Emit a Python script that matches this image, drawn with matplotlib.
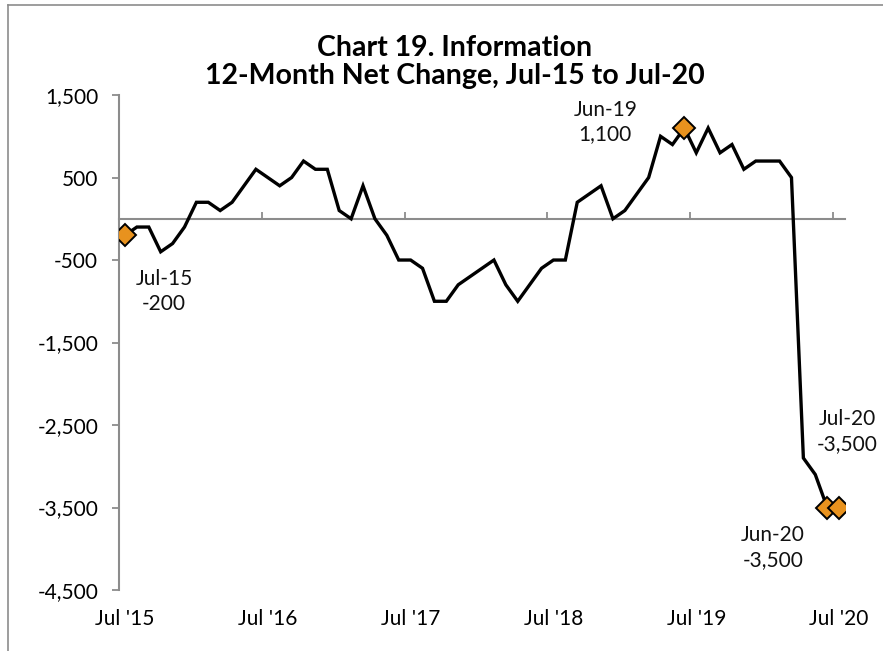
import matplotlib

matplotlib.use("Agg")
import matplotlib.pyplot as plt
import pandas as pd
from matplotlib.lines import Line2D

plt.rcParams["font.family"] = ["Lato", "DejaVu Sans"]

# ---------------------------------------------------------------------------
# data: 12-month net change, Information, Jul-15 .. Jul-20
# ---------------------------------------------------------------------------
months = pd.date_range("2015-07-01", "2020-07-01", freq="MS").strftime("%b-%y").tolist()
net_change = [
    -200, -100, -100, -400, -300, -100, 200, 200, 100, 200, 400, 600,
    500, 400, 500, 700, 600, 600, 100, 0, 400, 0, -200, -500,
    -500, -600, -1000, -1000, -800, -700, -600, -500, -800, -1000, -800, -600,
    -500, -500, 200, 300, 400, 0, 100, 300, 500, 1000, 900, 1100,
    800, 1100, 800, 900, 600, 700, 700, 700, 500, -2900, -3100, -3500,
    -3500,
]
xtick_labels = ["Jul '15", "Jul '16", "Jul '17", "Jul '18", "Jul '19", "Jul '20"]
yticks = [1500, 500, -500, -1500, -2500, -3500, -4500]
highlight = ["Jul-15", "Jun-19", "Jun-20", "Jul-20"]
# label offsets in pixels (dx, dy) from the marker
label_offsets = {"Jul-15": (39, -56), "Jun-19": (-79, 6), "Jun-20": (-54, -40), "Jul-20": (8, 76)}

ORANGE = "#E8921E"
GREY = "#8C8C8C"

fig = plt.figure(figsize=(8.83, 6.51), dpi=100, facecolor="white")
ax = fig.add_axes([0.1348, 0.0937, 0.8222, 0.7603])

x = list(range(len(net_change)))
ax.plot(x, net_change, color="black", linewidth=2.4, solid_joinstyle="miter", zorder=3)

for m in highlight:
    i = months.index(m)
    ax.plot(i, net_change[i], marker="D", markersize=11, markerfacecolor=ORANGE,
            markeredgecolor="black", markeredgewidth=1.4, linestyle="none", zorder=4)
    dx, dy = label_offsets[m]
    ax.annotate(f"{m}\n{net_change[i]:,}", (i, net_change[i]),
                xytext=(dx * 0.72, dy * 0.72), textcoords="offset points",
                ha="center", va="center", fontsize=15, linespacing=1.3, color="#111111")

ax.set_xlim(-0.5, len(net_change) - 0.5)
ax.set_ylim(-4500, 1500)

ax.set_xticks(range(0, len(net_change), 12))
ax.set_xticklabels(xtick_labels)
ax.tick_params(axis="x", length=0, pad=14, labelsize=15)

ax.set_yticks(yticks)
ax.set_yticklabels([f"{v:,}" for v in yticks])
ax.tick_params(axis="y", direction="out", length=5, width=1.3, color=GREY, pad=10, labelsize=15)

for side in ["top", "right", "bottom"]:
    ax.spines[side].set_visible(False)
ax.spines["left"].set_color(GREY)
ax.spines["left"].set_linewidth(1.5)

# zero line with tick marks between the years
zero_ax = ax.secondary_xaxis(0.75)
zero_ax.set_xticks([i - 0.5 for i in range(0, len(net_change), 12)])
zero_ax.set_xticklabels([])
zero_ax.tick_params(direction="out", length=5, width=1.3, color=GREY)
for sp in zero_ax.spines.values():
    sp.set_color(GREY)
    sp.set_linewidth(1.5)

fig.text(0.515, 0.905, "Chart 19. Information\n12-Month Net Change, Jul-15 to Jul-20",
         ha="center", va="center", fontsize=20.5, fontweight="bold", linespacing=1.1)

# frame lines (top and left)
fig.add_artist(Line2D([8 / 883, 1], [1 - 5 / 651, 1 - 5 / 651], color=GREY, linewidth=1.2))
fig.add_artist(Line2D([8 / 883, 8 / 883], [0, 1 - 5 / 651], color=GREY, linewidth=1.2))

fig.savefig("out.png", dpi=100, facecolor="white")
